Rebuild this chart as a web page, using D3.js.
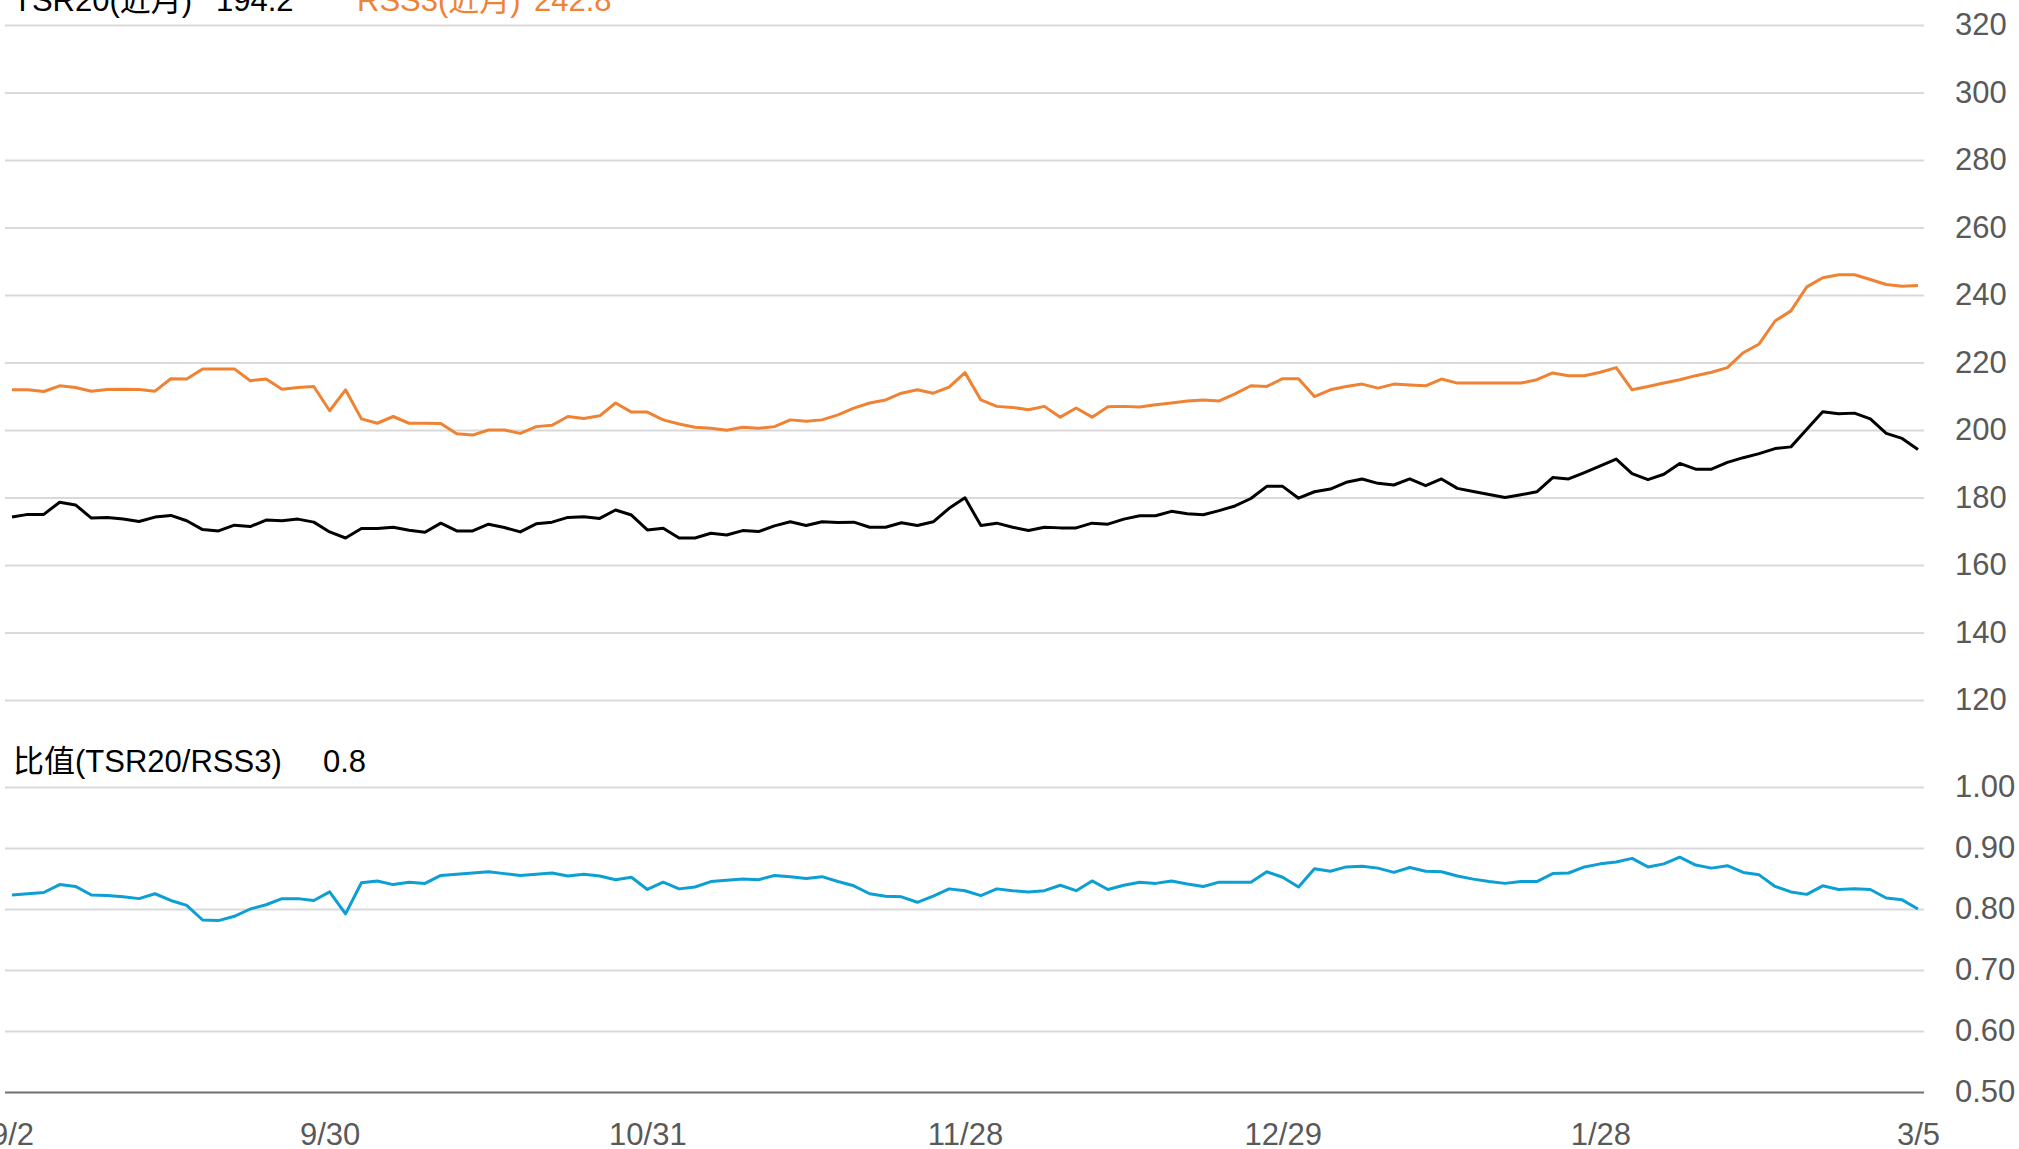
<!DOCTYPE html>
<html>
<head>
<meta charset="utf-8">
<title>TSR20 / RSS3</title>
<script src="https://cdn.jsdelivr.net/npm/d3@7"></script>
<style>
body { margin: 0; background: #fff; }
text { font-family: "Liberation Sans", Arial, "Noto Sans CJK SC", sans-serif; }
.grid line { stroke: #d9d9d9; stroke-width: 2; }
.grid text, .xaxis text { fill: #595959; font-size: 31px; }
.grid path, .xaxis path, .xaxis line { display: none; }
</style>
</head>
<body>
<script>
// x tick labels (every 20th trading day)
var tickLabels = ["9/2", "9/30", "10/31", "11/28", "12/29", "1/28", "3/5"];
var tickIndex = [0, 20, 40, 60, 80, 100, 120];

var tsr20 = [174.2, 175.0, 175.0, 178.6, 177.8, 173.9, 174.1, 173.6, 172.9, 174.2,
  174.7, 173.1, 170.5, 170.1, 171.8, 171.4, 173.3, 173.1, 173.6, 172.7,
  169.8, 168.0, 170.8, 170.8, 171.2, 170.3, 169.7, 172.4, 170.1, 170.1,
  172.1, 171.1, 169.8, 172.2, 172.7, 174.1, 174.3, 173.8, 176.3, 174.8,
  170.4, 170.9, 168.0, 168.0, 169.4, 168.9, 170.2, 169.9, 171.6, 172.8,
  171.7, 172.8, 172.6, 172.7, 171.2, 171.2, 172.5, 171.7, 172.8, 176.8,
  179.9, 171.7, 172.4, 171.2, 170.2, 171.2, 171.0, 171.0, 172.4, 172.1,
  173.6, 174.6, 174.6, 175.9, 175.2, 174.9, 176.1, 177.5, 179.7, 183.3,
  183.3, 179.8, 181.7, 182.5, 184.5, 185.5, 184.2, 183.7, 185.5, 183.5,
  185.5, 182.7, 181.8, 180.9, 180.0, 180.8, 181.7, 185.9, 185.5, 187.4,
  189.4, 191.4, 187.1, 185.3, 186.9, 190.1, 188.4, 188.4, 190.4, 191.8,
  193.0, 194.5, 195.0, 200.2, 205.4, 204.8, 205.0, 203.3, 199.0, 197.5,
  194.2];

var rss3 = [211.9, 211.9, 211.4, 213.1, 212.6, 211.5, 212.0, 212.1, 212.0, 211.5,
  215.2, 215.1, 218.1, 218.1, 218.1, 214.6, 215.1, 212.1, 212.6, 212.9,
  205.7, 211.9, 203.3, 202.0, 204.0, 202.0, 202.0, 201.9, 198.9, 198.5,
  200.0, 200.0, 199.0, 201.0, 201.4, 204.0, 203.4, 204.2, 208.0, 205.3,
  205.3, 203.0, 201.8, 200.8, 200.5, 199.9, 200.8, 200.5, 201.0, 203.0,
  202.6, 203.0, 204.5, 206.5, 208.0, 208.9, 210.9, 211.9, 210.9, 212.7,
  217.0, 208.9, 207.0, 206.7, 206.0, 207.0, 203.8, 206.5, 203.8, 206.9,
  207.0, 206.8, 207.5, 208.0, 208.6, 208.9, 208.6, 210.7, 213.1, 212.9,
  215.2, 215.2, 209.9, 211.9, 212.9, 213.6, 212.4, 213.6, 213.3, 213.1,
  215.1, 213.9, 213.9, 213.9, 213.9, 213.9, 214.9, 216.9, 216.1, 216.1,
  217.1, 218.5, 211.9, 212.9, 213.9, 214.9, 216.1, 217.1, 218.5, 222.9,
  225.5, 232.3, 235.3, 242.4, 245.1, 246.0, 246.0, 244.6, 243.1, 242.6,
  242.8];

var ratio = [0.823, 0.825, 0.827, 0.840, 0.837, 0.823, 0.822, 0.820, 0.817, 0.825,
  0.814, 0.806, 0.782, 0.781, 0.788, 0.800, 0.807, 0.817, 0.817, 0.814,
  0.828, 0.792, 0.843, 0.846, 0.840, 0.844, 0.842, 0.855, 0.857, 0.859,
  0.861, 0.858, 0.855, 0.857, 0.859, 0.854, 0.857, 0.854, 0.848, 0.852,
  0.832, 0.844, 0.833, 0.836, 0.845, 0.847, 0.849, 0.848, 0.855, 0.853,
  0.850, 0.853, 0.845, 0.838, 0.825, 0.821, 0.820, 0.811, 0.821, 0.833,
  0.830, 0.822, 0.833, 0.830, 0.828, 0.830, 0.839, 0.830, 0.846, 0.832,
  0.839, 0.844, 0.842, 0.846, 0.841, 0.837, 0.844, 0.844, 0.844, 0.861,
  0.852, 0.836, 0.866, 0.862, 0.869, 0.870, 0.867, 0.860, 0.868, 0.862,
  0.861, 0.854, 0.849, 0.845, 0.842, 0.845, 0.845, 0.858, 0.859, 0.869,
  0.874, 0.877, 0.883, 0.869, 0.874, 0.885, 0.872, 0.867, 0.871, 0.860,
  0.856, 0.837, 0.828, 0.824, 0.838, 0.832, 0.833, 0.832, 0.818, 0.815,
  0.800];

var topTicks = [120, 140, 160, 180, 200, 220, 240, 260, 280, 300, 320];
var bottomTicks = [0.5, 0.6, 0.7, 0.8, 0.9, 1.0];

var width = 2019;
var height = 1149;
var gridLeft = 5, gridRight = 1924;

var svg = d3.select("body")
  .append("svg")
  .attr("width", width)
  .attr("height", height);

var x = d3.scaleLinear()
  .domain([0, tsr20.length - 1])
  .range([12, 1918]);

var yTop = d3.scaleLinear().domain([120, 320]).range([700, 25]);
var yBot = d3.scaleLinear().domain([0.5, 1.0]).range([1092, 787]);

// gridlines + right-hand labels
svg.append("g")
  .attr("class", "grid")
  .attr("transform", "translate(" + gridLeft + ",0)")
  .call(d3.axisRight(yTop).tickValues(topTicks)
    .tickSize(gridRight - gridLeft).tickPadding(31).tickFormat(d3.format("d")));

var gBot = svg.append("g")
  .attr("class", "grid")
  .attr("transform", "translate(" + gridLeft + ",0)")
  .call(d3.axisRight(yBot).tickValues(bottomTicks)
    .tickSize(gridRight - gridLeft).tickPadding(31).tickFormat(d3.format(".2f")));
// bottom one is the axis line, darker
gBot.selectAll(".tick").filter(function(d){ return d === 0.5; })
  .select("line").style("stroke", "#707070");

svg.selectAll(".grid text").attr("x", 1955 - gridLeft).style("text-anchor", "start");

// date labels
svg.append("g")
  .attr("class", "xaxis")
  .attr("transform", "translate(0,1092)")
  .call(d3.axisBottom(x).tickValues(tickIndex).tickSize(0).tickPadding(31)
    .tickFormat(function(d, i){ return tickLabels[i]; }));

function addLine(data, y, color) {
  var line = d3.line()
    .x(function(d, i){ return x(i); })
    .y(function(d){ return y(d); });
  svg.append("path")
    .datum(data)
    .attr("d", line)
    .attr("fill", "none")
    .attr("stroke", color)
    .attr("stroke-width", 3)
    .attr("stroke-linejoin", "round");
}

addLine(rss3, yTop, "#ef8233");
addLine(tsr20, yTop, "#000000");
addLine(ratio, yBot, "#0b9fd4");

// headers
var legend = [
  {t: "TSR20(近月)", x: 13, c: "#000"},
  {t: tsr20[tsr20.length - 1].toFixed(1), x: 216, c: "#000"},
  {t: "RSS3(近月)", x: 357, c: "#ef8233"},
  {t: rss3[rss3.length - 1].toFixed(1), x: 534, c: "#ef8233"}
];
svg.selectAll(".legend")
  .data(legend)
  .enter()
  .append("text")
  .attr("x", function(d){ return d.x; })
  .attr("y", 11)
  .attr("fill", function(d){ return d.c; })
  .style("font-size", "31px")
  .text(function(d){ return d.t; });

svg.append("text")
  .attr("x", 13).attr("y", 772)
  .style("font-size", "31px")
  .text("比值(TSR20/RSS3)");
svg.append("text")
  .attr("x", 323).attr("y", 772)
  .style("font-size", "31px")
  .text(ratio[ratio.length - 1].toFixed(1));
</script>
</body>
</html>
